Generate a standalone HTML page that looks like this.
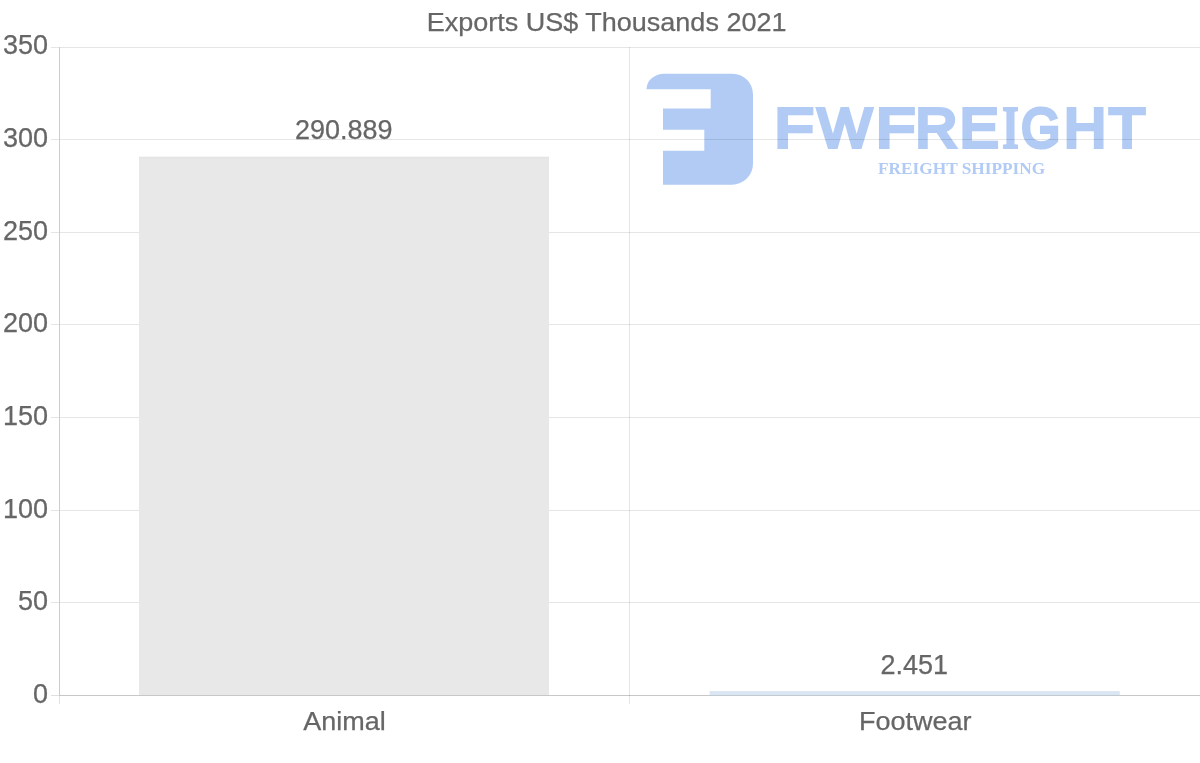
<!DOCTYPE html><html><head><meta charset="utf-8"><title>Exports US$ Thousands 2021</title>
<style>html,body{margin:0;padding:0;background:#fff}svg{display:block}text{font-family:"Liberation Sans",Arial,sans-serif;fill:#666}.t{stroke:#666;stroke-width:.25px}</style></head><body>
<svg width="1200" height="763" viewBox="0 0 1200 763">
<rect width="1200" height="763" fill="#fff"/>
<g fill="#b1cbf4">
<path d="M646.5 89.3 A17.5 15.5 0 0 1 664 73.8 L732.5 73.8 A20.5 20.5 0 0 1 753 94.3 L753 163.7 A21 21 0 0 1 732 184.7 L663 184.7 L663 150.8 L704.3 150.8 L704.3 129.7 L663 129.7 L663 108.6 L710.7 108.6 L710.7 89.3 Z"/>
</g>
<text aria-label="FWFREIGHT" y="148.9" style="fill:#b1cbf4;stroke:#b1cbf4;stroke-linejoin:miter"><tspan x="774.55" textLength="39.12" lengthAdjust="spacingAndGlyphs" font-size="55.96" y="146.90" stroke-width="4.0">F</tspan><tspan x="817.85" textLength="53.95" lengthAdjust="spacingAndGlyphs" font-size="55.96" y="146.90" stroke-width="4.0">W</tspan><tspan x="876.05" textLength="39.12" lengthAdjust="spacingAndGlyphs" font-size="55.96" y="146.90" stroke-width="4.0">F</tspan><tspan x="915.55" textLength="41.84" lengthAdjust="spacingAndGlyphs" font-size="55.96" y="146.90" stroke-width="4.0">R</tspan><tspan x="959.73" textLength="38.76" lengthAdjust="spacingAndGlyphs" font-size="55.96" y="146.90" stroke-width="4.0">E</tspan><tspan x="1002.18" textLength="16.45" lengthAdjust="spacingAndGlyphs" font-size="61.55" font-family="'Liberation Serif',serif" font-weight="bold" y="147.80" stroke-width="2.2">I</tspan><tspan x="1021.19" textLength="38.84" lengthAdjust="spacingAndGlyphs" font-size="55.96" y="146.90" stroke-width="4.0">G</tspan><tspan x="1063.91" textLength="42.15" lengthAdjust="spacingAndGlyphs" font-size="55.96" y="146.90" stroke-width="4.0">H</tspan><tspan x="1108.97" textLength="36.19" lengthAdjust="spacingAndGlyphs" font-size="55.96" y="146.90" stroke-width="4.0">T</tspan></text>
<text x="878.0" y="174.3" textLength="167.2" lengthAdjust="spacingAndGlyphs" style="font-family:'Liberation Serif',serif;font-weight:bold;font-size:16.9px;fill:#b1cbf4">FREIGHT SHIPPING</text>
<rect x="51" y="47" width="1149" height="1" fill="rgba(0,0,0,0.1)"/>
<rect x="51" y="139" width="1149" height="1" fill="rgba(0,0,0,0.1)"/>
<rect x="51" y="232" width="1149" height="1" fill="rgba(0,0,0,0.1)"/>
<rect x="51" y="324" width="1149" height="1" fill="rgba(0,0,0,0.1)"/>
<rect x="51" y="417" width="1149" height="1" fill="rgba(0,0,0,0.1)"/>
<rect x="51" y="510" width="1149" height="1" fill="rgba(0,0,0,0.1)"/>
<rect x="51" y="602" width="1149" height="1" fill="rgba(0,0,0,0.1)"/>
<rect x="139" y="156.8" width="410" height="538.2" fill="#e8e8e8"/>
<rect x="139" y="156.8" width="410" height="2" fill="#e5e5e5"/>
<rect x="709.6" y="691.1" width="410.2" height="3.9" fill="#dae6f1"/>
<rect x="51" y="695" width="8" height="1" fill="#e0e0e0"/>
<rect x="59" y="695" width="1141" height="1" fill="rgba(0,0,0,0.22)"/>
<rect x="709.6" y="695" width="410.2" height="1" fill="#c3c9d1"/>
<rect x="59" y="47" width="1" height="648" fill="#cccccc"/>
<rect x="59" y="696" width="1" height="8" fill="#e2e2e2"/>
<rect x="629" y="47" width="1" height="657" fill="rgba(0,0,0,0.1)"/>
<text class="t" x="426.75" y="30.8" font-size="26.2" textLength="359.7" lengthAdjust="spacingAndGlyphs">Exports US$ Thousands 2021</text>
<text class="t" x="48.0" y="53.6" font-size="27" text-anchor="end">350</text>
<text class="t" x="48.0" y="146.6" font-size="27" text-anchor="end">300</text>
<text class="t" x="48.0" y="239.6" font-size="27" text-anchor="end">250</text>
<text class="t" x="48.0" y="331.6" font-size="27" text-anchor="end">200</text>
<text class="t" x="48.0" y="424.6" font-size="27" text-anchor="end">150</text>
<text class="t" x="48.0" y="517.6" font-size="27" text-anchor="end">100</text>
<text class="t" x="48.0" y="609.6" font-size="27" text-anchor="end">50</text>
<text class="t" x="48.0" y="702.6" font-size="27" text-anchor="end">0</text>
<text class="t" x="294.90" y="138.6" font-size="26.8" textLength="97.6" lengthAdjust="spacingAndGlyphs">290.889</text>
<text class="t" x="880.40" y="673.6" font-size="26.8" textLength="67.6" lengthAdjust="spacingAndGlyphs">2.451</text>
<text class="t" x="303.25" y="729.8" font-size="26.4" textLength="82.5" lengthAdjust="spacingAndGlyphs">Animal</text>
<text class="t" x="858.90" y="729.8" font-size="26.4" textLength="112.6" lengthAdjust="spacingAndGlyphs">Footwear</text>
</svg></body></html>
